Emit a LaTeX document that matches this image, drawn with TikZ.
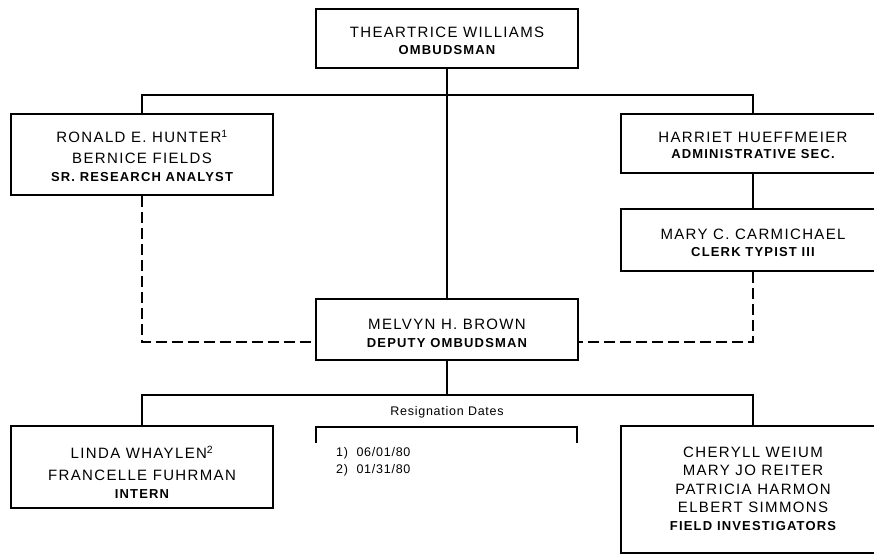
\documentclass[tikz,border=0pt]{standalone}
\usepackage{fontspec}
\newfontfamily\chartfont[LetterSpace=9]{Liberation Sans}
\newfontfamily\smallfont[LetterSpace=6]{Liberation Sans}
\newcommand{\nmfont}{\chartfont\fontsize{15}{19}\selectfont}
\newcommand{\ttlfont}{\chartfont\bfseries\fontsize{13}{19}\selectfont}
\newcommand{\rsfont}{\smallfont\fontsize{12.5}{16}\selectfont}
\tikzset{
  box/.style={draw, line width=1.4pt, inner sep=0pt, minimum width=#1},
  nm/.style={anchor=base, inner sep=0pt, font=\nmfont},
  ttl/.style={anchor=base, inner sep=0pt, font=\ttlfont},
  itm/.style={anchor=base west, inner sep=0pt, font=\rsfont},
  solidline/.style={line width=1.4pt},
  dashline/.style={line width=1.4pt, dash pattern=on 11pt off 5pt},
}
\begin{document}
\begin{tikzpicture}[x=1pt,y=-1pt]
\useasboundingbox (0,0) rectangle (874,557);
\clip (0,0) rectangle (874,557);
% boxes
\node[box=262pt, minimum height=59pt] (top) at (447,38.5) {};
\node[box=262pt, minimum height=81pt] (hunter) at (142,154.5) {};
\node[box=264pt, minimum height=59pt] (harriet) at (753,143.5) {};
\node[box=264pt, minimum height=62pt] (mary) at (753,240) {};
\node[box=262pt, minimum height=61pt] (melvyn) at (447,329.5) {};
\node[box=262pt, minimum height=82pt] (linda) at (142,467) {};
\node[box=264pt, minimum height=127pt] (cheryll) at (753,489.5) {};
% texts
\node[nm] (t1) at (447,37.4) {THEARTRICE WILLIAMS};
\node[ttl] (t2) at (447,54.7) {OMBUDSMAN};
\node[nm] (h1) at (142,142.4) {RONALD E. HUNTER\textsuperscript{1}};
\node[nm] (h2) at (142,163.4) {BERNICE FIELDS};
\node[ttl] (h3) at (142,181.7) {SR. RESEARCH ANALYST};
\node[nm] (r1) at (753,142.4) {HARRIET HUEFFMEIER};
\node[ttl] (r2) at (753,158.7) {ADMINISTRATIVE SEC.};
\node[nm] (m1) at (753,239.4) {MARY C. CARMICHAEL};
\node[ttl] (m2) at (753,256.7) {CLERK TYPIST III};
\node[nm] (d1) at (447,329.4) {MELVYN H. BROWN};
\node[ttl] (d2) at (447,347.7) {DEPUTY OMBUDSMAN};
\node[nm] (l1) at (142,458.4) {LINDA WHAYLEN\textsuperscript{2}};
\node[nm] (l2) at (142,480.4) {FRANCELLE FUHRMAN};
\node[ttl] (l3) at (142,498.7) {INTERN};
\node[nm] (c1) at (753,457.4) {CHERYLL WEIUM};
\node[nm] (c2) at (753,475.9) {MARY JO REITER};
\node[nm] (c3) at (753,494.4) {PATRICIA HARMON};
\node[nm] (c4) at (753,512.9) {ELBERT SIMMONS};
\node[ttl] (c5) at (753,530.7) {FIELD INVESTIGATORS};
\node[anchor=base, inner sep=0pt, font=\rsfont] (rd) at (447,415.5) {Resignation Dates};
\node[itm] (i1) at (336,456.5) {1)\ \ 06/01/80};
\node[itm] (i2) at (336,473.5) {2)\ \ 01/31/80};
% coordinates
\coordinate (jl) at (142,95);
\coordinate (jr) at (753,95);
\coordinate (jb) at (447,395);
\coordinate (bl) at (142,395);
\coordinate (br) at (753,395);
\coordinate (dl) at (142,342);
\coordinate (dr) at (753,342);
\coordinate (k1) at (316,443);
\coordinate (k2) at (316,427);
\coordinate (k3) at (577,427);
\coordinate (k4) at (577,443);
% solid connectors
\draw[solidline] (top.south) -- (melvyn.north);
\draw[solidline] (hunter.north) -- (jl) -- (jr) -- (harriet.north);
\draw[solidline] (harriet.south) -- (mary.north);
\draw[solidline] (melvyn.south) -- (jb);
\draw[solidline] (linda.north) -- (bl) -- (br) -- (cheryll.north);
% dashed connectors
\draw[dashline] (hunter.south) -- (dl) -- (dl -| melvyn.west);
\draw[dashline] (mary.south) -- (dr) -- (dr -| melvyn.east);
% bracket
\draw[line width=1.2pt] (k1) -- (k2) -- (k3) -- (k4);
\end{tikzpicture}
\end{document}
